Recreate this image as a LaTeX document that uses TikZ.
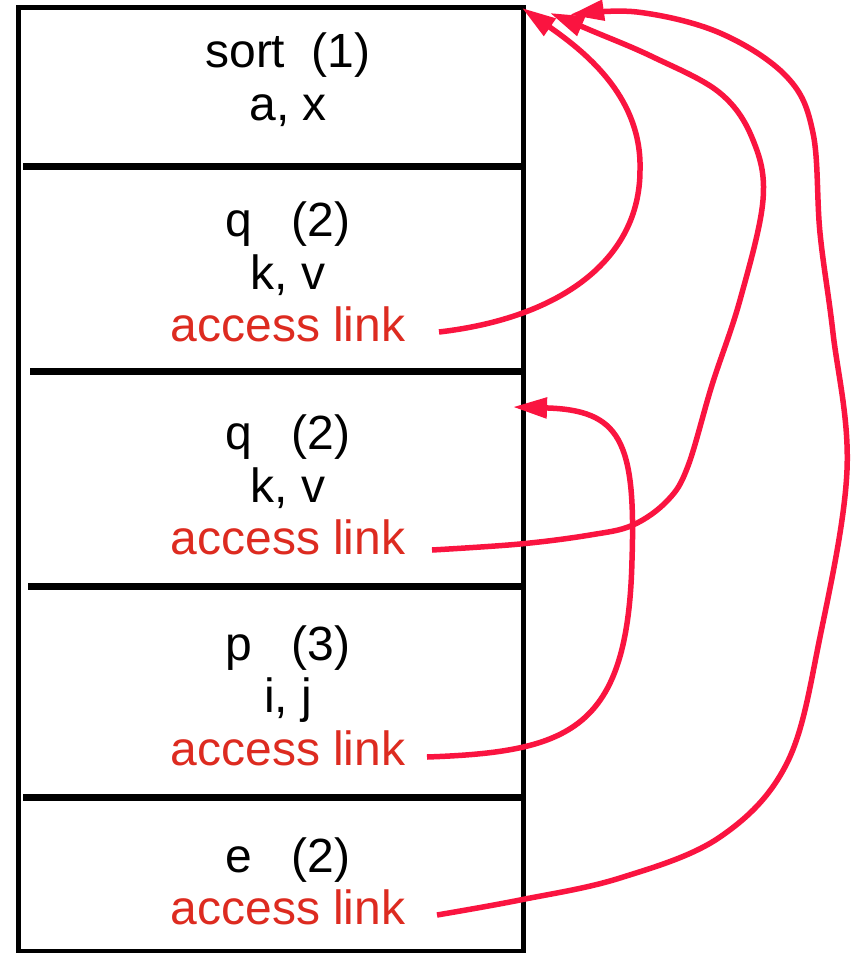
\documentclass[tikz,border=0pt]{standalone}
\usepackage{fontspec}
\setmainfont{Liberation Sans}
\usetikzlibrary{arrows.meta}
\definecolor{linkred}{RGB}{250,20,64}
\definecolor{textred}{RGB}{221,43,32}
\begin{document}
\begin{tikzpicture}[x=1pt,y=-1pt,
  frame/.style={line width=5pt,draw=black},
  divider/.style={line width=7pt,draw=black},
  lbl/.style={anchor=base,inner sep=0pt,font=\fontsize{48}{58}\selectfont,text=black},
  acc/.style={lbl,text=textred},
  link/.style={line width=5.5pt,draw=linkred,-{Triangle[length=34pt,width=20pt]}}]
\useasboundingbox (0,0) rectangle (854,953);
\fill[white] (0,0) rectangle (854,953);
% stack frame box
\draw[frame] (18.5,7.5) rectangle (523,951);
\draw[divider] (23,166) -- (521,166);
\draw[divider] (30,371) -- (523,371);
\draw[divider] (28,586) -- (523,586);
\draw[divider] (23,797) -- (521,797);
% texts
\node[lbl] (s1a) at (288,67) {sort\ \ (1)};
\node[lbl] (s1b) at (288,120) {a, x};
\node[lbl] (s2a) at (288,236) {q\ \ \ (2)};
\node[lbl] (s2b) at (288,289) {k, v};
\node[acc] (al2) at (288,341) {access link};
\node[lbl] (s3a) at (288,449) {q\ \ \ (2)};
\node[lbl] (s3b) at (288,502) {k, v};
\node[acc] (al3) at (288,554) {access link};
\node[lbl] (s4a) at (288,660) {p\ \ \ (3)};
\node[lbl] (s4b) at (288,712) {i, j};
\node[acc] (al4) at (288,765) {access link};
\node[lbl] (s5a) at (288,872) {e\ \ \ (2)};
\node[acc] (al5) at (288,924) {access link};
% connector ends
\coordinate (sA) at (439,332);
\coordinate (tA) at (522,8);
\coordinate (sB) at (432,550);
\coordinate (tB) at (550,13);
\coordinate (sC) at (437,915);
\coordinate (tC) at (570,15);
\coordinate (sD) at (427,757);
\coordinate (tD) at (513,407);
% access links
\draw[link] (sA) .. controls (560,318) and (640,260) .. (640,170)
               .. controls (642,100) and (590,55) .. (tA);
\draw[link] plot[smooth,tension=0.6] coordinates {(sB) (520,544) (590,535) (633,525) (668,500) (688,466) (712,385) (740,300) (763,200) (753,140) (720,93) (653,57) (590,30) (tB)};
\draw[link] plot[smooth,tension=0.6] coordinates {(sC) (520,900) (620,878) (720,837) (787,763) (820,637) (847,470) (833,333) (820,233) (813,133) (787,77) (720,33) (637,12) (tC)};
\draw[link] (sD) .. controls (570,752) and (628,730) .. (632,560)
               .. controls (636,440) and (620,410) .. (tD);
\end{tikzpicture}
\end{document}
